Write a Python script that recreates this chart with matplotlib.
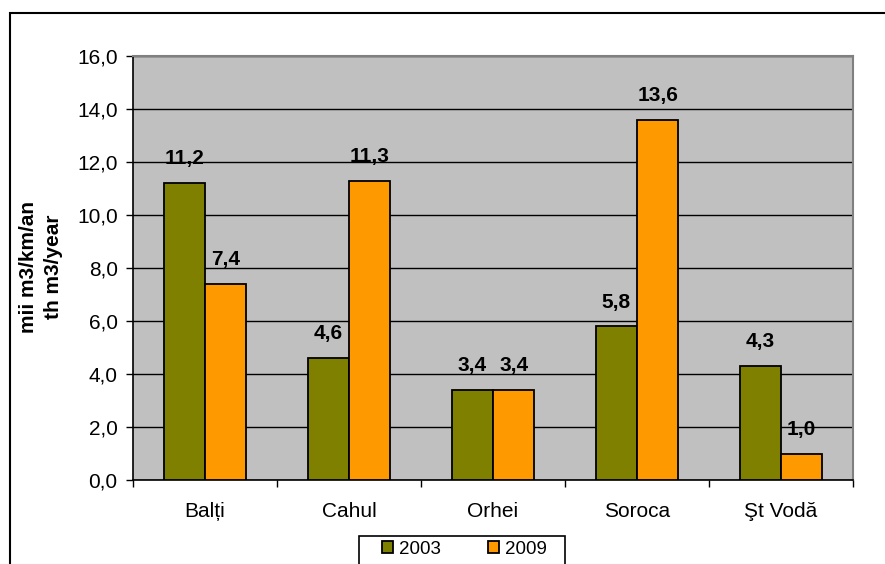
import numpy as np
import matplotlib
matplotlib.use("Agg")
import matplotlib.pyplot as plt
from matplotlib.patches import Rectangle

plt.rcParams['font.family'] = ['Liberation Sans', 'DejaVu Sans']

regions = ["Bal\u021bi", "Cahul", "Orhei", "Soroca", "\u015et Vod\u0103"]
v2003 = [11.2, 4.6, 3.4, 5.8, 4.3]
v2009 = [7.4, 11.3, 3.4, 13.6, 1.0]
years = ["2003", "2009"]

W, H = 885, 564
fs = 15
fig = plt.figure(figsize=(W / 100, H / 100), dpi=100)
ax = fig.add_axes([133 / W, 1 - 480 / H, 720 / W, 424 / H])
ax.set_facecolor('#C0C0C0')

x = np.arange(len(regions))
bw = 0.286
b1 = ax.bar(x - bw / 2, v2003, bw, color='#808000', edgecolor='black', linewidth=1.3, label=years[0], zorder=3)
b2 = ax.bar(x + bw / 2, v2009, bw, color='#FF9900', edgecolor='black', linewidth=1.3, label=years[1], zorder=3)

for bars, vals in [(b1, v2003), (b2, v2009)]:
    for r, v in zip(bars, vals):
        ax.annotate(f"{v:.1f}".replace('.', ','), (r.get_x() + r.get_width() / 2, v),
                    xytext=(0, 13.5), textcoords='offset points', ha='center', va='baseline',
                    fontsize=fs, fontweight='bold', zorder=4)

ax.set_xlim(-0.5, len(regions) - 0.5)
ax.set_ylim(0, 16)
yt = np.arange(0, 17, 2)
ax.set_yticks(yt)
ax.set_yticklabels([f"{t:.1f}".replace('.', ',') for t in yt], fontsize=fs)
ax.yaxis.grid(True, color='black', linewidth=1.0)
ax.set_axisbelow(True)

ax.set_xticks(np.arange(-0.5, len(regions), 1.0))
ax.set_xticklabels([])
ax.set_xticks(x, minor=True)
ax.set_xticklabels(regions, minor=True, fontsize=fs)
ax.tick_params(axis='x', which='minor', length=0, pad=16)
ax.tick_params(axis='x', which='major', length=5, width=1, direction='out')
ax.tick_params(axis='y', length=5, width=1, direction='out', pad=6)

for s in ['top', 'right']:
    ax.spines[s].set_color('#808080')
    ax.spines[s].set_linewidth(1.5)
for s in ['left', 'bottom']:
    ax.spines[s].set_color('black')
    ax.spines[s].set_linewidth(1.2)

fig.text(41 / W, 1 - 267 / H, "mii m3/km/an\nth m3/year", rotation=90, ha='center', va='center',
         multialignment='center', fontsize=fs, fontweight='bold', linespacing=1.4)

# legend box (cut by the bottom edge, as in the original)
fig.patches.append(Rectangle((359 / W, -0.05), 206 / W, 0.05 + 1 - 536 / H, transform=fig.transFigure,
                             fill=False, edgecolor='black', linewidth=1.2))
leg = fig.legend(handles=[b1, b2], labels=years, loc='center left',
                 bbox_to_anchor=(382 / W, 1 - 549 / H), ncol=2, fontsize=13.5,
                 frameon=False, handlelength=0.6, handleheight=0.6, handletextpad=0.3,
                 columnspacing=2.5, borderpad=0, borderaxespad=0)

fig.patches.append(Rectangle((10 / W, -0.1), 1.2, 1 - 13 / H + 0.1, transform=fig.transFigure,
                             fill=False, edgecolor='black', linewidth=1.5))

fig.savefig("out.png", dpi=100)
